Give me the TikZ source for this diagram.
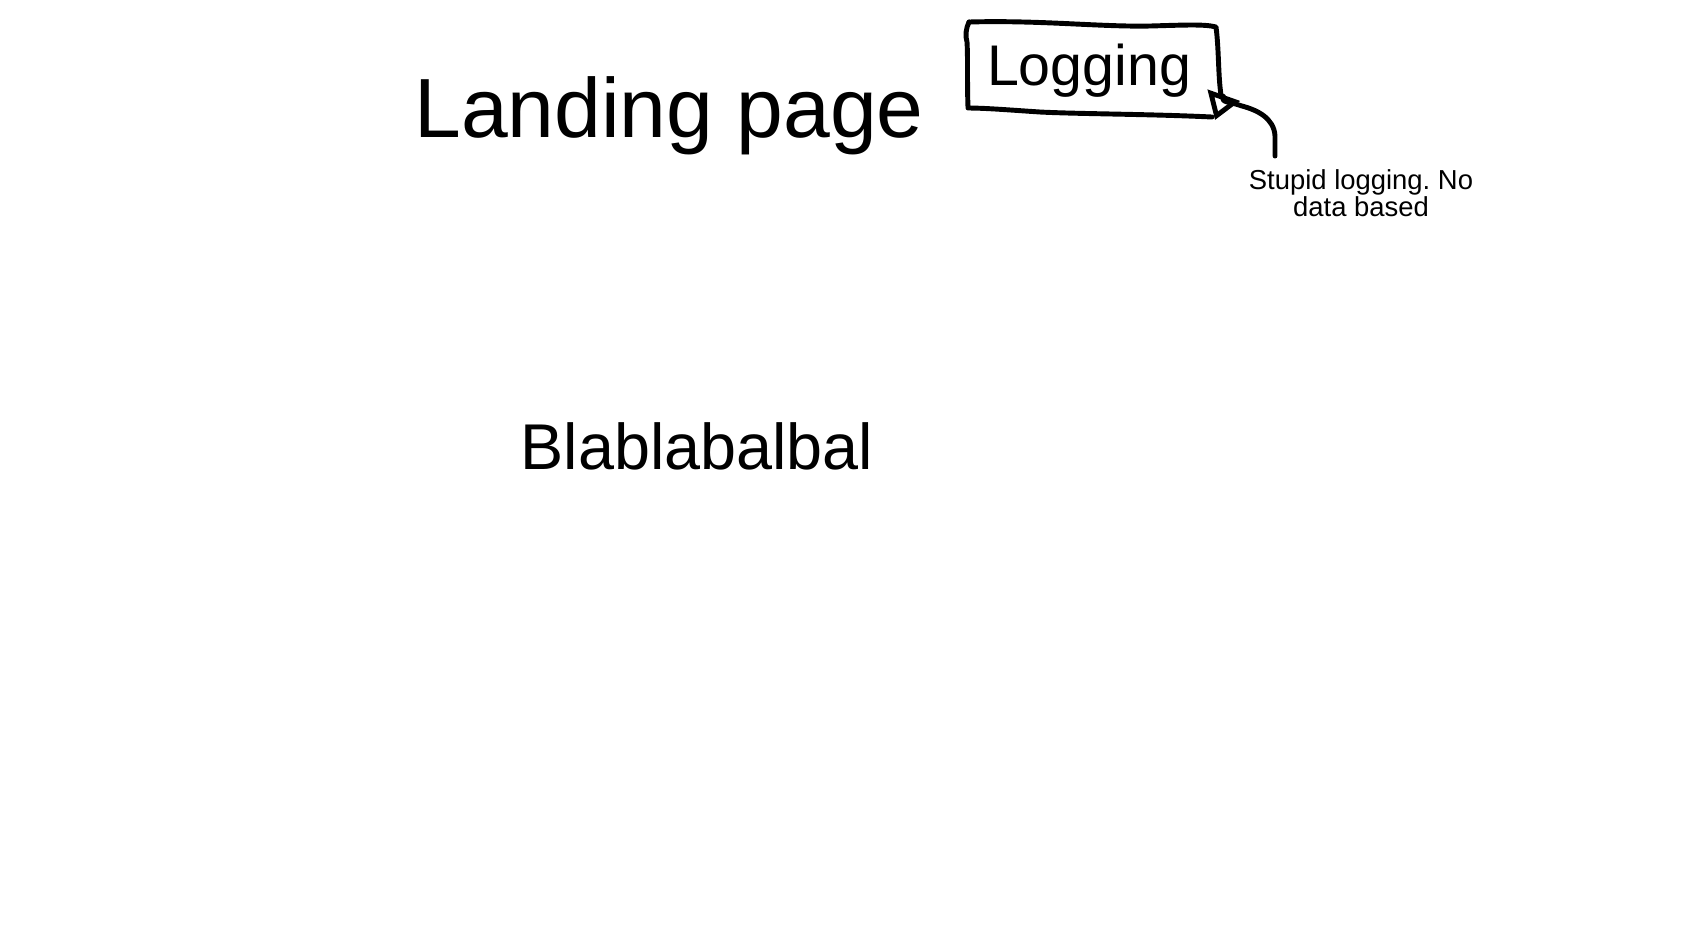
\documentclass[tikz,border=0pt]{standalone}
\usepackage{fontspec}
\setmainfont{Liberation Sans}
\usepackage{tikz}
\usetikzlibrary{arrows.meta}
\definecolor{ink}{HTML}{000000}

\begin{document}
\begin{tikzpicture}[x=0.01cm,y=-0.01cm,>={Triangle[open,length=7.5pt,width=9.5pt]},
  pen/.style={draw=ink,line width=1.4pt,line cap=round,line join=round},
  txt/.style={inner sep=0pt,text=ink}]
  \useasboundingbox (0,0) rectangle (1695,938);
  % titel en tekst
  \node[txt,anchor=base,font=\fontsize{23.9pt}{28pt}\selectfont] (title) at (669,137) {Landing page};
  \node[txt,anchor=base,font=\fontsize{18.4pt}{22pt}\selectfont] (body) at (697,469) {Blablabalbal};
  \node[txt,anchor=base,font=\fontsize{16.3pt}{20pt}\selectfont] (logging) at (1089,85) {Logging};
  \node[txt,anchor=base,align=center,font=\fontsize{7.8pt}{7.4pt}\selectfont] (note) at (1361,216) {Stupid logging.\ No\\data based};
  % kader rond logging (hand getekend)
  \draw[pen] (969,22) .. controls (1040,20) and (1100,27) .. (1150,26)
    .. controls (1185,25) and (1205,24) .. (1216,27)
    .. controls (1219,50) and (1218,75) .. (1221,95);
  \draw[pen] (1212,117) .. controls (1150,114) and (1080,114) .. (1040,112)
    .. controls (1010,110) and (985,108) .. (968,108)
    .. controls (967,80) and (968,60) .. (967,42)
    .. controls (965,36) and (966,28) .. (969,22);
  % pijl naar de notitie
  \coordinate (tail) at (1275,156);
  \draw[pen,->] (tail) -- (1275,136) .. controls (1274,118) and (1257,110) .. (1242,106)
    .. controls (1228,101) and (1221,103) .. (1215,120);
\end{tikzpicture}
\end{document}
